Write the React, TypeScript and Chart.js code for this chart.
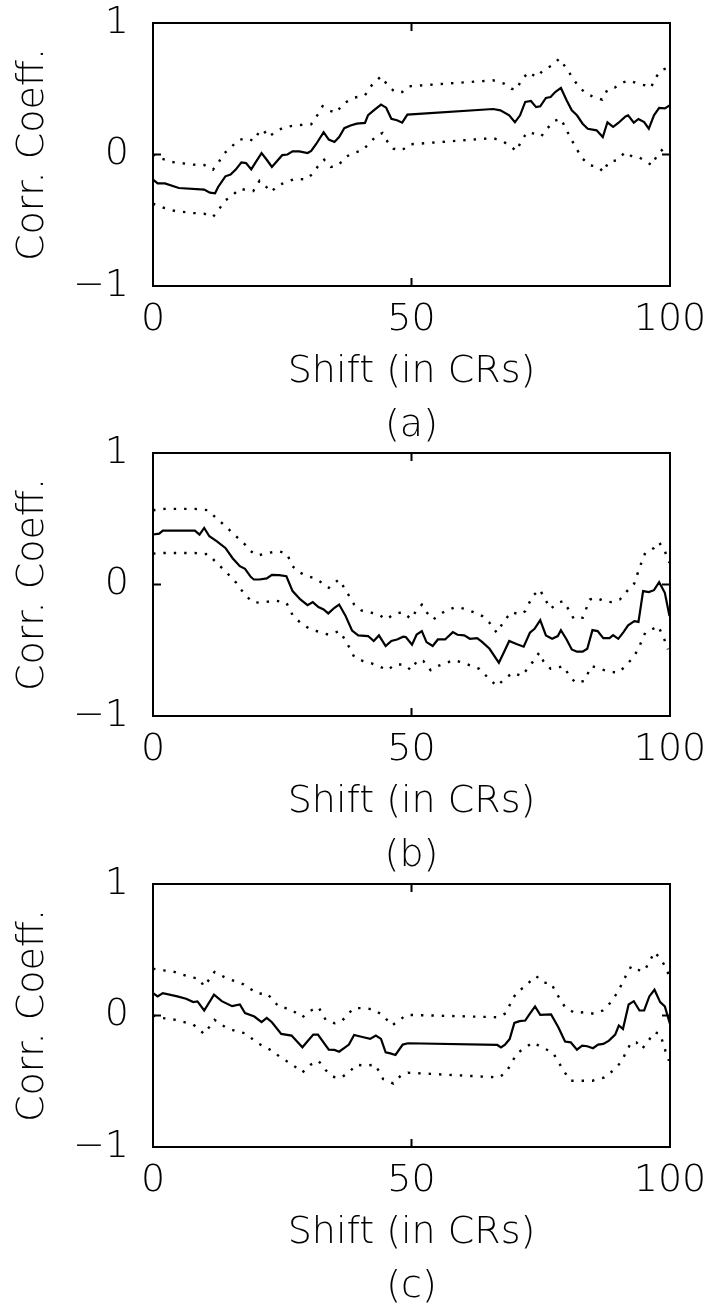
import React, { useEffect, useRef } from "react";
import { Chart, registerables } from "chart.js";

Chart.register(...registerables);

// ---------- text ----------
const X_TITLE = "Shift (in CRs)";
const Y_TITLE = "Corr. Coeff.";
const PANEL_LABELS = ["(a)", "(b)", "(c)"];
const X_TICKS = [0, 50, 100];
const Y_TICKS = [-1, 0, 1];

// ---------- panel (a) ----------
const A_MID_X = [0,0.9,2.3,5,9.9,11,12,12.6,14,15,16,17.1,18,19,20,21,22,23,24,25,26,27,28.3,29.9,30.6,31.6,33,34,35.1,36,37,38.2,39.4,41,41.6,42.7,44.1,45.1,46.1,47.2,48.2,49.2,65.8,67.2,68.9,70,71,72,73.1,74.1,74.9,76,76.9,77.8,78.9,80,81,82,83.1,84.1,85.8,87,87.9,89,90,91.4,91.9,93,93.9,95,95.9,96.9,97.9,99,100];
const A_MID_Y = [-0.19,-0.22,-0.22,-0.255,-0.267,-0.29,-0.295,-0.247,-0.166,-0.153,-0.115,-0.06,-0.065,-0.113,-0.05,0.01,-0.04,-0.095,-0.05,-0.005,0,0.024,0.024,0.011,0.027,0.082,0.17,0.113,0.095,0.133,0.2,0.22,0.235,0.24,0.3,0.336,0.38,0.356,0.272,0.26,0.242,0.303,0.346,0.336,0.298,0.245,0.298,0.4,0.407,0.36,0.366,0.43,0.437,0.475,0.506,0.412,0.336,0.298,0.234,0.196,0.184,0.133,0.245,0.21,0.24,0.29,0.298,0.242,0.27,0.247,0.196,0.298,0.354,0.351,0.374];
const A_UP_X = [0,1.6,3.7,7.8,9.9,11.6,12.6,13.7,15,16.4,18.2,19.4,20.4,21.3,22.3,23.7,25,27.1,30.6,31.8,32.8,34,35.4,36.8,38.9,41,42.3,44.1,45.4,46.8,48.2,49.6,65.8,67.9,69.3,70.3,71.3,72.7,74.1,75.5,77.2,78.6,80,81.7,83.4,85.2,86.9,87.9,89.3,90.7,92.1,93.8,95.2,96.3,97.2,98.3,100];
const A_UP_Y = [0,-0.03,-0.057,-0.077,-0.08,-0.115,-0.065,0.006,0.05,0.108,0.125,0.103,0.163,0.19,0.133,0.171,0.2,0.22,0.23,0.3,0.367,0.336,0.316,0.387,0.432,0.45,0.526,0.594,0.526,0.475,0.475,0.519,0.564,0.539,0.5,0.493,0.57,0.627,0.589,0.64,0.678,0.729,0.653,0.551,0.475,0.437,0.417,0.493,0.508,0.544,0.564,0.539,0.526,0.508,0.584,0.64,0.665];
const A_LO_X = [0,1.6,4.3,7.8,9.9,11.6,12.6,14,15,16.8,18.2,19.4,20.6,21.6,22.9,24,25.8,27.5,29.6,30.9,31.9,33.1,34.4,35.8,37.2,38.9,40.6,42,43.4,44.4,45.4,46.5,48.2,49.6,65.8,67.9,69.3,70.3,71.3,72.4,73.8,75.1,76.2,77.6,78.9,80,81.7,83.1,84.5,86.2,87.1,88.1,89.7,91.4,92.8,94.1,95.5,96.5,97.5,99,100];
const A_LO_Y = [-0.374,-0.4,-0.43,-0.445,-0.45,-0.475,-0.425,-0.349,-0.323,-0.26,-0.272,-0.278,-0.2,-0.234,-0.285,-0.237,-0.21,-0.184,-0.19,-0.146,-0.09,-0.04,-0.095,-0.085,-0.02,0.014,0.032,0.095,0.146,0.164,0.095,0.044,0.032,0.077,0.125,0.095,0.057,0.027,0.108,0.17,0.158,0.138,0.196,0.255,0.272,0.184,0.057,-0.032,-0.082,-0.095,-0.133,-0.057,-0.044,0.019,-0.019,-0.024,-0.057,-0.082,-0.006,0.057,0.062];

// ---------- panel (b) ----------
const B_MID_X = [0,1.2,1.9,4.4,8.1,9,9.9,10.9,12.3,14,15.4,16.8,17.8,18.9,19.5,20.6,22,23,24.4,25.8,27,28.5,29.9,30.9,32,33,33.9,35.1,36,37.2,38.5,39.7,41.6,42.7,43.7,45,46.1,47.2,48.4,48.9,50.1,51,52,52.9,54.1,55.1,56.5,58,58.9,60.2,61.3,62.7,63.7,65.1,66.9,67.9,68.9,70.3,71.7,72.9,73.8,74.9,76,77.2,78.3,78.9,80,81,82,83.1,84,85,86,87.1,88.3,89,90,91,91.9,93.1,93.9,94.8,95.9,96.9,97.9,99,99.9];
const B_MID_Y = [0.38,0.387,0.41,0.41,0.41,0.38,0.43,0.367,0.33,0.278,0.2,0.139,0.119,0.058,0.038,0.038,0.046,0.073,0.071,0.063,-0.05,-0.114,-0.157,-0.134,-0.172,-0.19,-0.22,-0.177,-0.152,-0.235,-0.35,-0.387,-0.392,-0.43,-0.387,-0.468,-0.43,-0.418,-0.397,-0.4,-0.458,-0.38,-0.354,-0.438,-0.468,-0.418,-0.418,-0.362,-0.382,-0.387,-0.413,-0.408,-0.438,-0.489,-0.595,-0.514,-0.43,-0.453,-0.473,-0.367,-0.337,-0.271,-0.387,-0.413,-0.392,-0.347,-0.418,-0.494,-0.511,-0.511,-0.489,-0.347,-0.354,-0.408,-0.408,-0.385,-0.413,-0.362,-0.311,-0.278,-0.284,-0.05,-0.058,-0.043,0.018,-0.063,-0.24];
const B_UP_X = [0,2.3,5.7,8.1,9.5,10.6,12,13.3,14.7,16.4,17.8,18.9,20.2,22.3,24.4,25.9,27,28.2,29.9,31.3,32.7,34,35.1,36,37.2,38.9,40.3,42.3,43.6,45.1,46.5,48.2,49.9,51,52,53,54.2,55.5,56.8,58.6,60.3,62,63.7,65.1,66.5,67.9,69.3,71,72,73.4,74.8,75.8,76.9,78.3,79.3,80.4,81.4,83.1,84.5,85.8,87.2,88.6,90.3,91.7,93.1,94.1,95.2,96.9,97.9,99,99.9];
const B_UP_Y = [0.565,0.575,0.575,0.575,0.57,0.565,0.514,0.468,0.418,0.354,0.304,0.253,0.22,0.24,0.253,0.233,0.139,0.094,0.063,0.048,0.013,-0.025,0.013,0.038,-0.038,-0.152,-0.197,-0.215,-0.228,-0.266,-0.228,-0.21,-0.261,-0.195,-0.154,-0.215,-0.266,-0.228,-0.195,-0.172,-0.185,-0.21,-0.24,-0.291,-0.367,-0.278,-0.21,-0.228,-0.203,-0.089,-0.038,-0.109,-0.185,-0.139,-0.127,-0.19,-0.261,-0.253,-0.114,-0.101,-0.127,-0.134,-0.114,-0.05,0.008,0.127,0.24,0.278,0.32,0.253,0.165];
const B_LO_X = [0,2.3,8.1,9.5,10.6,12,14.4,16.1,17.5,19.2,20.9,23.7,25.8,27.1,28.9,30.6,32.3,34,35.1,36.1,37.5,38.9,40.6,42.3,43.9,45.4,46.8,48.5,49.9,51.2,52.3,53.7,55.1,56.8,58.2,59.9,61.7,63.1,64.8,66.5,67.9,69.6,71.3,73.1,74.7,75.5,76.9,78.3,79.3,80.4,81.7,83.4,84.8,86.8,88.3,90,91.4,93.1,94.1,95.2,96.5,97.7,98.8,99.6];
const B_LO_Y = [0.235,0.24,0.24,0.228,0.233,0.177,0.084,0.013,-0.063,-0.134,-0.139,-0.122,-0.139,-0.24,-0.304,-0.342,-0.362,-0.382,-0.367,-0.354,-0.443,-0.549,-0.582,-0.6,-0.625,-0.651,-0.608,-0.608,-0.651,-0.575,-0.582,-0.651,-0.62,-0.595,-0.575,-0.595,-0.62,-0.641,-0.709,-0.772,-0.722,-0.671,-0.696,-0.608,-0.519,-0.582,-0.641,-0.633,-0.62,-0.684,-0.747,-0.734,-0.62,-0.646,-0.663,-0.671,-0.62,-0.544,-0.468,-0.367,-0.342,-0.316,-0.405,-0.494];

// ---------- panel (c) ----------
const C_MID_X = [0,0.9,1.9,4.7,6.4,7.8,8.6,9.9,11.8,13.3,15.3,16.8,17.8,19.6,21,22,23,24.8,26.8,28.9,31,31.9,34,35.1,36,37.9,38.9,40.7,42,43.1,44.1,45,45.9,46.9,48.3,49.3,66.6,67.3,68.1,69,69.9,70.9,72,72.8,73.9,74.9,77,78.4,79.7,80.8,82,83,84,85.1,86.1,87.1,88.2,89.4,90.1,90.9,92,93,94.1,95,96,97,98.1,99,100];
const C_MID_Y = [0.17,0.145,0.17,0.145,0.127,0.102,0.107,0.038,0.158,0.109,0.071,0.084,0.018,-0.008,-0.051,-0.018,-0.051,-0.14,-0.153,-0.242,-0.145,-0.145,-0.26,-0.262,-0.275,-0.221,-0.148,-0.165,-0.178,-0.153,-0.178,-0.28,-0.288,-0.3,-0.221,-0.211,-0.224,-0.242,-0.221,-0.178,-0.056,-0.043,-0.038,0.008,0.069,0.005,0.008,-0.089,-0.198,-0.204,-0.26,-0.229,-0.234,-0.249,-0.221,-0.216,-0.191,-0.145,-0.076,-0.102,0.084,0.109,0.038,0.038,0.145,0.196,0.102,0.069,-0.064];
const C_UP_X = [0,1.6,3.7,7.1,8.9,9.9,11.9,14,15.8,17.5,20.3,22,24.4,26.5,28.9,30.3,32,33.4,35.1,36.5,38.8,40.7,42.7,44.5,46.2,47.6,49,66.6,68.3,69.4,70.4,71.8,72.8,74.1,75.6,77,78,79.7,81.5,83.5,85.3,87,88.6,90,91.5,92.5,93.5,95,96,97,98.1,99.1,99.8];
const C_UP_Y = [0.356,0.344,0.338,0.293,0.28,0.221,0.331,0.288,0.262,0.237,0.165,0.17,0.064,0.051,-0.013,0.033,0.064,-0.033,-0.059,-0.043,0.056,0.056,0.046,0,-0.076,-0.038,0.005,-0.013,0.018,0.115,0.178,0.216,0.254,0.3,0.249,0.247,0.17,0.064,0.02,0.025,0.013,0.038,0.102,0.186,0.305,0.374,0.349,0.338,0.407,0.483,0.433,0.374,0.305];
const C_LO_X = [0,1.6,4.4,7.8,9.9,11.9,14,16.1,17.8,20.3,23,24.8,26.8,28.9,30.5,32,33.4,34.8,36.2,37.9,39.3,41,43,44.5,46.5,47.9,49.3,66.9,68.3,69.4,70.4,72.1,73.5,75.2,77.3,78.3,79.4,80.8,82.9,85,87.3,89.1,90.5,91.5,92.5,93.5,94.6,95.6,97,98.1,99.1,99.8];
const C_LO_Y = [0,-0.018,-0.033,-0.069,-0.14,-0.033,-0.089,-0.12,-0.135,-0.211,-0.267,-0.323,-0.369,-0.433,-0.374,-0.344,-0.415,-0.466,-0.476,-0.433,-0.374,-0.382,-0.374,-0.483,-0.517,-0.458,-0.435,-0.471,-0.433,-0.356,-0.288,-0.242,-0.204,-0.242,-0.28,-0.344,-0.42,-0.496,-0.496,-0.496,-0.471,-0.415,-0.356,-0.28,-0.204,-0.204,-0.254,-0.204,-0.127,-0.14,-0.267,-0.344];

const PANELS = [
  { label: PANEL_LABELS[0], mid: [A_MID_X, A_MID_Y], up: [A_UP_X, A_UP_Y], lo: [A_LO_X, A_LO_Y] },
  { label: PANEL_LABELS[1], mid: [B_MID_X, B_MID_Y], up: [B_UP_X, B_UP_Y], lo: [B_LO_X, B_LO_Y] },
  { label: PANEL_LABELS[2], mid: [C_MID_X, C_MID_Y], up: [C_UP_X, C_UP_Y], lo: [C_LO_X, C_LO_Y] },
];

const FONT_FAMILY = "'DejaVu Sans', 'Liberation Sans', sans-serif";
const FONT_WEIGHT = 200;
const FONT_SIZE = 38;

function toPoints(xs: number[], ys: number[]) {
  const n = Math.min(xs.length, ys.length);
  const out: { x: number; y: number }[] = [];
  for (let i = 0; i < n; i++) out.push({ x: xs[i], y: ys[i] });
  return out;
}

const framePlugin = {
  id: "frame",
  afterDatasetsDraw(chart: any) {
    const { ctx, chartArea, scales } = chart;
    const { left, right, top, bottom } = chartArea;
    ctx.save();
    ctx.strokeStyle = "#000";
    ctx.lineWidth = 2;
    ctx.strokeRect(left, top, right - left, bottom - top);
    const tick = 8;
    ctx.beginPath();
    X_TICKS.forEach((v) => {
      if (v <= scales.x.min || v >= scales.x.max) return;
      const px = scales.x.getPixelForValue(v);
      ctx.moveTo(px, top);
      ctx.lineTo(px, top + tick);
      ctx.moveTo(px, bottom);
      ctx.lineTo(px, bottom - tick);
    });
    Y_TICKS.forEach((v) => {
      if (v <= scales.y.min || v >= scales.y.max) return;
      const py = scales.y.getPixelForValue(v);
      ctx.moveTo(left, py);
      ctx.lineTo(left + tick, py);
      ctx.moveTo(right, py);
      ctx.lineTo(right - tick, py);
    });
    ctx.stroke();
    ctx.restore();
  },
};

function Panel({ panel, top }: { panel: any; top: number }) {
  const ref = useRef<HTMLCanvasElement | null>(null);
  useEffect(() => {
    if (!ref.current) return;
    const font = { family: FONT_FAMILY, size: FONT_SIZE, weight: FONT_WEIGHT as any };
    const solid = {
      borderColor: "#000",
      borderWidth: 2.2,
      pointRadius: 0,
      tension: 0,
      fill: false,
    };
    const dotted = { ...solid, borderWidth: 2.4, borderDash: [2.4, 8], borderCapStyle: "butt" as const };
    const chart = new Chart(ref.current, {
      type: "line",
      data: {
        datasets: [
          { ...solid, data: toPoints(panel.mid[0], panel.mid[1]) },
          { ...dotted, data: toPoints(panel.up[0], panel.up[1]) },
          { ...dotted, data: toPoints(panel.lo[0], panel.lo[1]) },
        ],
      },
      options: {
        animation: false,
        responsive: false,
        maintainAspectRatio: false,
        events: [],
        layout: { padding: { top: 23, right: 41, left: 0, bottom: 0 } },
        plugins: { legend: { display: false }, tooltip: { enabled: false } },
        scales: {
          x: {
            type: "linear",
            position: "bottom",
            min: 0,
            max: 100,
            afterBuildTicks: (s: any) => {
              s.ticks = X_TICKS.map((v) => ({ value: v }));
            },
            afterFit: (s: any) => {
              s.height = 174;
              s.paddingLeft = 0;
              s.paddingRight = 0;
            },
            grid: { display: false, drawTicks: false },
            border: { display: false },
            ticks: {
              color: "#000",
              font,
              padding: 11,
              maxRotation: 0,
              autoSkip: false,
              callback: (v: any) => String(v),
            },
            title: {
              display: true,
              text: [X_TITLE, panel.label],
              color: "#000",
              font: { ...font, lineHeight: "54px" },
              padding: { top: 0, bottom: 7 },
            },
          },
          y: {
            type: "linear",
            min: -1,
            max: 1,
            afterBuildTicks: (s: any) => {
              s.ticks = Y_TICKS.map((v) => ({ value: v }));
            },
            afterFit: (s: any) => {
              s.width = 153;
              s.paddingTop = 0;
              s.paddingBottom = 0;
            },
            grid: { display: false, drawTicks: false },
            border: { display: false },
            ticks: {
              color: "#000",
              font,
              padding: 24,
              callback: (v: any) => (Number(v) < 0 ? "\u2212" + Math.abs(Number(v)) : String(v)),
            },
            title: {
              display: true,
              text: Y_TITLE,
              color: "#000",
              font: { ...font, lineHeight: 1.2 },
              padding: { top: 10, bottom: 0 },
            },
          },
        },
      } as any,
      plugins: [framePlugin],
    });
    return () => chart.destroy();
  }, [panel]);
  return (
    <canvas
      ref={ref}
      width={711}
      height={460}
      style={{ position: "absolute", left: 0, top, width: 711, height: 460, display: "block" }}
    />
  );
}

const PANEL_TOPS = [0, 430, 861];

export default function App() {
  return (
    <div
      style={{
        position: "absolute",
        left: 0,
        top: 0,
        width: 711,
        height: 1308,
        overflow: "hidden",
        background: "#fff",
      }}
    >
      {PANELS.map((p, i) => (
        <Panel key={i} panel={p} top={PANEL_TOPS[i]} />
      ))}
    </div>
  );
}
